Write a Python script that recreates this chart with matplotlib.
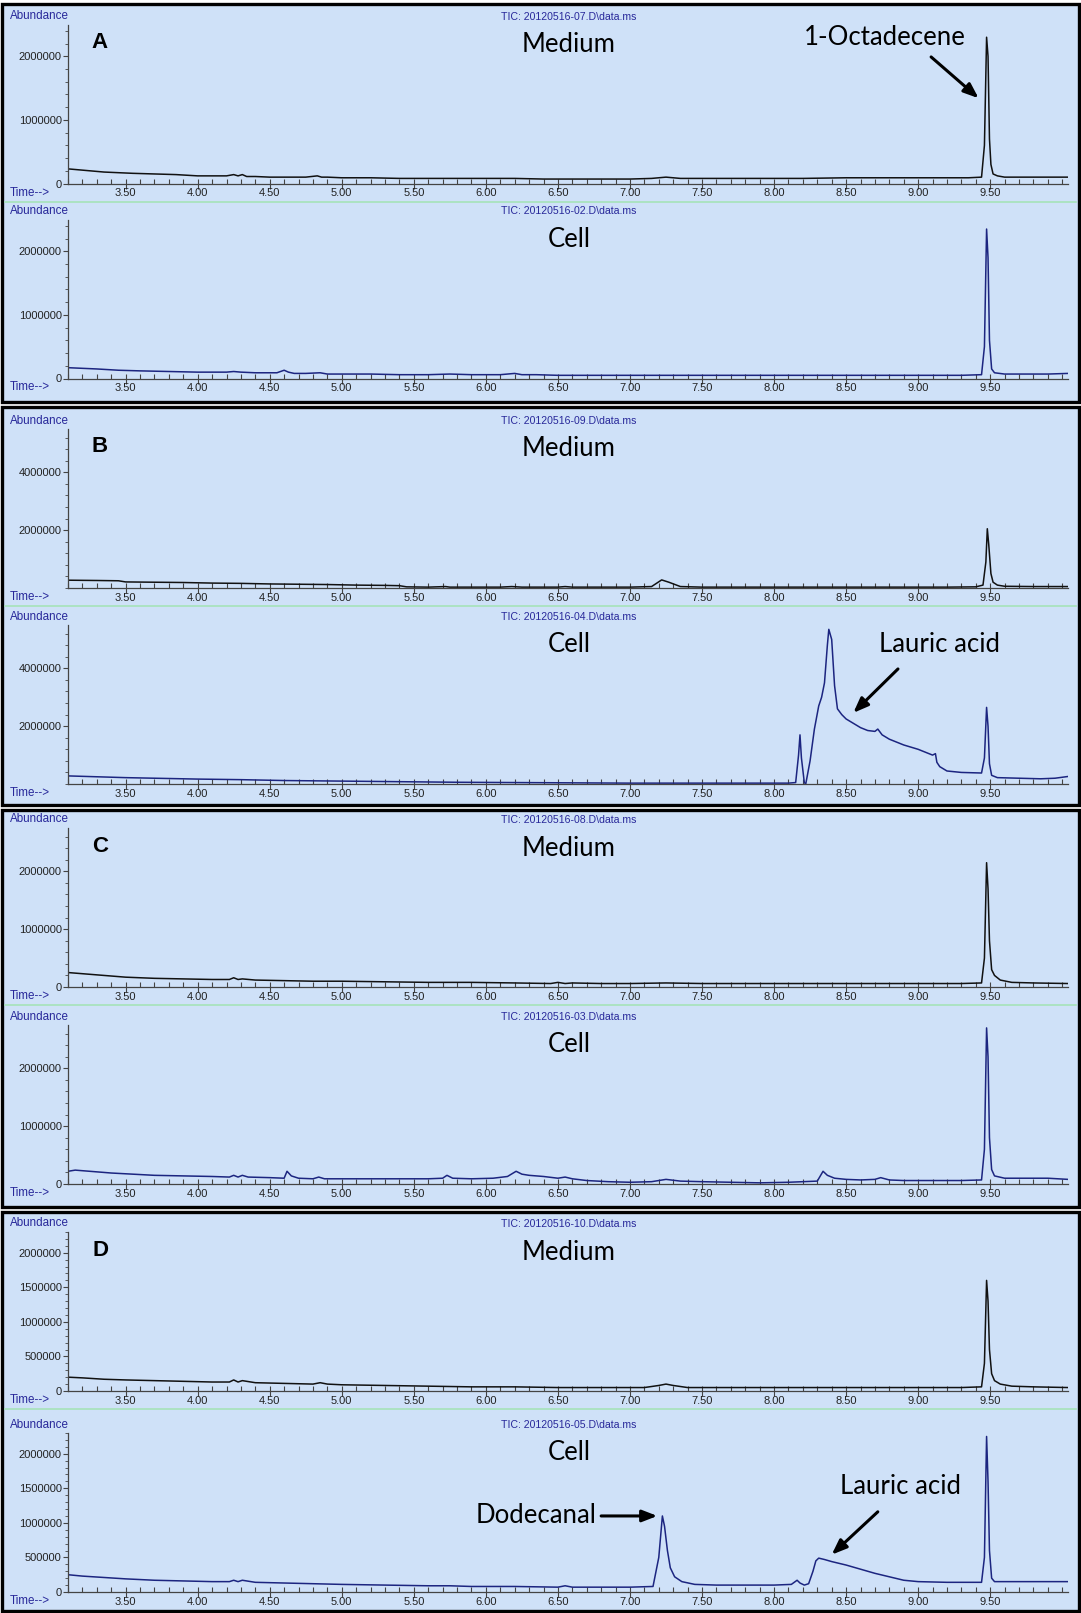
import numpy as np
import matplotlib.pyplot as plt
from matplotlib.patches import Rectangle
from matplotlib.lines import Line2D
from matplotlib.ticker import MultipleLocator, FixedLocator, FuncFormatter

# retention time (min) / abundance (millions)
a_med_t = [3.10, 3.15, 3.25, 3.35, 3.45, 3.55, 3.70, 3.85, 4.00, 4.10, 4.20, 4.25, 4.28, 4.31, 4.34, 4.40, 4.50, 4.60,
           4.75, 4.83, 4.86, 4.90, 5.00, 5.20, 5.40, 5.60, 5.80, 6.00, 6.20, 6.40, 6.60, 6.80, 7.00, 7.15, 7.25, 7.35,
           7.50, 7.80, 8.00, 8.20, 8.50, 8.80, 9.00, 9.20, 9.35, 9.44, 9.46, 9.475, 9.485, 9.495, 9.505, 9.52, 9.55,
           9.60, 9.70, 9.80, 9.90, 10.04]
a_med_y = [0.23, 0.22, 0.20, 0.18, 0.17, 0.16, 0.15, 0.14, 0.12, 0.12, 0.12, 0.14, 0.12, 0.14, 0.11, 0.11, 0.10, 0.10,
           0.10, 0.12, 0.10, 0.10, 0.09, 0.09, 0.08, 0.08, 0.08, 0.08, 0.08, 0.07, 0.07, 0.07, 0.07, 0.08, 0.10, 0.08,
           0.08, 0.08, 0.08, 0.08, 0.09, 0.09, 0.09, 0.09, 0.09, 0.10, 0.60, 2.30, 2.00, 0.70, 0.30, 0.15, 0.12,
           0.10, 0.10, 0.10, 0.10, 0.10]

a_cell_t = [3.10, 3.20, 3.30, 3.45, 3.60, 3.80, 4.00, 4.20, 4.25, 4.30, 4.40, 4.55, 4.60, 4.63, 4.67, 4.75, 4.85, 4.90,
            5.00, 5.20, 5.40, 5.60, 5.75, 5.90, 6.10, 6.20, 6.25, 6.35, 6.50, 6.70, 6.90, 7.10, 7.30, 7.50, 7.70,
            7.90, 8.10, 8.30, 8.50, 8.70, 8.90, 9.10, 9.30, 9.44, 9.46, 9.475, 9.485, 9.495, 9.51, 9.53, 9.60, 9.75,
            9.90, 10.04]
a_cell_y = [0.17, 0.16, 0.15, 0.13, 0.12, 0.11, 0.10, 0.10, 0.11, 0.10, 0.09, 0.09, 0.13, 0.10, 0.08, 0.08, 0.09, 0.07,
            0.07, 0.07, 0.06, 0.06, 0.07, 0.06, 0.06, 0.08, 0.06, 0.06, 0.05, 0.05, 0.05, 0.05, 0.05, 0.05, 0.05,
            0.05, 0.05, 0.05, 0.05, 0.05, 0.05, 0.05, 0.05, 0.06, 0.50, 2.35, 1.90, 0.60, 0.15, 0.09, 0.07, 0.07,
            0.07, 0.08]

b_med_t = [3.10, 3.30, 3.45, 3.50, 3.70, 3.90, 4.10, 4.30, 4.50, 4.70, 4.90, 5.10, 5.30, 5.40, 5.45, 5.60, 5.72, 5.75,
           5.90, 6.10, 6.18, 6.25, 6.50, 6.55, 6.60, 6.80, 7.00, 7.15, 7.22, 7.27, 7.35, 7.50, 7.80, 8.10, 8.40, 8.70,
           9.00, 9.20, 9.40, 9.45, 9.47, 9.48, 9.49, 9.505, 9.52, 9.55, 9.60, 9.80, 10.04]
b_med_y = [0.27, 0.26, 0.25, 0.21, 0.20, 0.19, 0.17, 0.16, 0.14, 0.13, 0.12, 0.10, 0.09, 0.08, 0.04, 0.03, 0.05, 0.03,
           0.03, 0.03, 0.05, 0.03, 0.03, 0.05, 0.03, 0.03, 0.03, 0.05, 0.28, 0.20, 0.05, 0.03, 0.03, 0.03, 0.03, 0.03,
           0.03, 0.03, 0.04, 0.10, 0.90, 2.05, 1.50, 0.50, 0.20, 0.10, 0.06, 0.05, 0.05]

b_cell_t = [3.10, 3.30, 3.50, 3.70, 4.00, 4.30, 4.60, 5.00, 5.40, 5.80, 6.20, 6.60, 7.00, 7.40, 7.80, 8.10, 8.15, 8.17,
            8.18, 8.19, 8.21, 8.22, 8.25, 8.28, 8.31, 8.33, 8.35, 8.37, 8.38, 8.40, 8.42, 8.44, 8.47, 8.50, 8.55, 8.60,
            8.65, 8.70, 8.72, 8.75, 8.80, 8.90, 9.00, 9.10, 9.12, 9.13, 9.15, 9.20, 9.30, 9.44, 9.46, 9.475, 9.485,
            9.495, 9.51, 9.55, 9.70, 9.85, 9.95, 10.04]
b_cell_y = [0.28, 0.25, 0.22, 0.20, 0.17, 0.15, 0.12, 0.10, 0.08, 0.06, 0.05, 0.04, 0.03, 0.03, 0.03, 0.03, 0.05, 1.00,
            1.70, 0.90, 0.05, 0.00, 0.80, 1.90, 2.70, 3.00, 3.50, 4.80, 5.35, 5.00, 3.40, 2.60, 2.40, 2.25, 2.10, 1.95,
            1.85, 1.82, 1.90, 1.70, 1.55, 1.35, 1.20, 1.00, 1.05, 0.75, 0.60, 0.45, 0.40, 0.38, 0.90, 2.65, 2.00,
            0.70, 0.30, 0.22, 0.20, 0.18, 0.20, 0.26]

c_med_t = [3.10, 3.20, 3.35, 3.50, 3.70, 3.90, 4.10, 4.22, 4.25, 4.28, 4.31, 4.40, 4.60, 4.80, 5.00, 5.30, 5.60, 5.90,
           6.20, 6.45, 6.50, 6.55, 6.60, 6.80, 7.00, 7.25, 7.50, 7.80, 8.10, 8.40, 8.70, 9.00, 9.30, 9.44, 9.46, 9.475,
           9.485, 9.495, 9.51, 9.53, 9.57, 9.65, 9.80, 10.04]
c_med_y = [0.25, 0.23, 0.20, 0.17, 0.15, 0.14, 0.13, 0.13, 0.16, 0.13, 0.14, 0.12, 0.11, 0.10, 0.10, 0.09, 0.08, 0.08,
           0.07, 0.06, 0.08, 0.06, 0.07, 0.06, 0.06, 0.07, 0.06, 0.06, 0.06, 0.06, 0.06, 0.06, 0.06, 0.07, 0.50, 2.15,
           1.70, 0.80, 0.30, 0.20, 0.12, 0.08, 0.07, 0.06]

c_cell_t = [3.10, 3.15, 3.25, 3.40, 3.55, 3.70, 3.90, 4.10, 4.22, 4.25, 4.28, 4.31, 4.35, 4.50, 4.60, 4.62, 4.65, 4.70,
            4.80, 4.84, 4.88, 5.00, 5.20, 5.40, 5.60, 5.70, 5.73, 5.77, 5.90, 6.05, 6.15, 6.21, 6.25, 6.30, 6.40, 6.50,
            6.55, 6.60, 6.70, 6.85, 7.00, 7.15, 7.25, 7.35, 7.50, 7.70, 7.90, 8.10, 8.30, 8.34, 8.37, 8.42, 8.50, 8.60,
            8.70, 8.74, 8.80, 8.90, 9.10, 9.30, 9.44, 9.46, 9.475, 9.485, 9.495, 9.51, 9.53, 9.60, 9.75, 9.90, 10.04]
c_cell_y = [0.22, 0.24, 0.22, 0.19, 0.17, 0.15, 0.14, 0.13, 0.12, 0.15, 0.12, 0.15, 0.12, 0.11, 0.10, 0.22, 0.14, 0.10,
            0.09, 0.12, 0.09, 0.09, 0.09, 0.09, 0.09, 0.10, 0.15, 0.10, 0.09, 0.10, 0.13, 0.22, 0.17, 0.15, 0.13, 0.10,
            0.12, 0.09, 0.06, 0.04, 0.03, 0.04, 0.08, 0.05, 0.04, 0.03, 0.02, 0.03, 0.05, 0.22, 0.15, 0.10, 0.08, 0.07,
            0.08, 0.11, 0.07, 0.06, 0.06, 0.06, 0.07, 0.60, 2.70, 2.20, 0.80, 0.25, 0.14, 0.10, 0.10, 0.10, 0.08]

d_med_t = [3.10, 3.20, 3.35, 3.50, 3.70, 3.90, 4.10, 4.22, 4.25, 4.28, 4.31, 4.40, 4.60, 4.80, 4.85, 4.90, 5.00, 5.30,
           5.60, 5.90, 6.20, 6.50, 6.80, 7.10, 7.20, 7.25, 7.30, 7.40, 7.60, 7.90, 8.20, 8.50, 8.80, 9.10, 9.30, 9.44,
           9.46, 9.475, 9.485, 9.495, 9.51, 9.53, 9.57, 9.65, 9.80, 10.04]
d_med_y = [0.20, 0.19, 0.17, 0.16, 0.15, 0.14, 0.13, 0.13, 0.16, 0.13, 0.15, 0.12, 0.11, 0.10, 0.12, 0.10, 0.09, 0.08,
           0.07, 0.06, 0.06, 0.05, 0.05, 0.05, 0.08, 0.10, 0.08, 0.05, 0.05, 0.05, 0.05, 0.05, 0.05, 0.05, 0.05, 0.06,
           0.40, 1.60, 1.30, 0.60, 0.25, 0.15, 0.10, 0.07, 0.06, 0.05]

d_cell_t = [3.10, 3.20, 3.35, 3.50, 3.70, 3.90, 4.10, 4.22, 4.25, 4.28, 4.31, 4.40, 4.60, 4.80, 5.00, 5.30, 5.60, 5.75,
            5.90, 6.20, 6.50, 6.55, 6.60, 6.80, 7.00, 7.16, 7.20, 7.225, 7.24, 7.26, 7.28, 7.31, 7.36, 7.45, 7.60, 7.80,
            8.00, 8.12, 8.16, 8.18, 8.21, 8.24, 8.27, 8.29, 8.31, 8.35, 8.40, 8.50, 8.60, 8.70, 8.80, 8.90, 9.00, 9.20,
            9.44, 9.46, 9.475, 9.485, 9.495, 9.51, 9.53, 9.60, 9.80, 10.04]
d_cell_y = [0.25, 0.23, 0.21, 0.19, 0.17, 0.16, 0.15, 0.15, 0.17, 0.15, 0.17, 0.14, 0.13, 0.12, 0.11, 0.10, 0.09, 0.09,
            0.08, 0.08, 0.07, 0.09, 0.07, 0.07, 0.07, 0.08, 0.50, 1.10, 0.95, 0.60, 0.35, 0.22, 0.15, 0.11, 0.10, 0.10,
            0.10, 0.11, 0.17, 0.13, 0.10, 0.12, 0.30, 0.45, 0.49, 0.47, 0.44, 0.39, 0.33, 0.27, 0.22, 0.17, 0.15, 0.14,
            0.14, 0.50, 2.25, 1.60, 0.60, 0.20, 0.15, 0.15, 0.15, 0.15]

panel_letters = ['A', 'B', 'C', 'D']
tic_files = [('20120516-07.D', '20120516-02.D'), ('20120516-09.D', '20120516-04.D'),
             ('20120516-08.D', '20120516-03.D'), ('20120516-10.D', '20120516-05.D')]
traces = [((a_med_t, a_med_y), (a_cell_t, a_cell_y)), ((b_med_t, b_med_y), (b_cell_t, b_cell_y)),
          ((c_med_t, c_med_y), (c_cell_t, c_cell_y)), ((d_med_t, d_med_y), (d_cell_t, d_cell_y))]
y_max = [2.5e6, 5.5e6, 2.75e6, 2.3e6]
y_major = [[0, 1e6, 2e6], [2e6, 4e6], [0, 1e6, 2e6], [0, 5e5, 1e6, 1.5e6, 2e6]]
y_minor = [2e5, 4e5, 2e5, 1e5]
x_major = [3.5, 4.0, 4.5, 5.0, 5.5, 6.0, 6.5, 7.0, 7.5, 8.0, 8.5, 9.0, 9.5]

# layout in pixels
W, H = 1081, 1613
panel_box = [(4, 402), (407, 805), (810, 1207), (1212, 1611)]
ax_bottom = [(183.5, 378.5), (588, 784), (987, 1184), (1391, 1592)]
ax_h = 159
x_left, x_right = 68, 1068

bg = '#cfe1f8'
blue_txt = '#28289a'
col_med = '#111111'
col_cell = '#1c2580'

fig = plt.figure(figsize=(W / 100, H / 100), dpi=100)


def fx(px):
    return px / W


def fy(py):
    return 1 - py / H


def fmt_y(v, pos):
    return '%d' % v


axes = []
for i in range(4):
    top, bot = panel_box[i]
    fig.patches.append(Rectangle((fx(2), fy(bot)), fx(1077), (bot - top) / H, transform=fig.transFigure,
                                 facecolor=bg, edgecolor='black', lw=2.4, zorder=-10))
    for k in range(2):
        b = ax_bottom[i][k]
        ax = fig.add_axes([fx(x_left), fy(b), fx(x_right - x_left), ax_h / H])
        ax.set_zorder(2)
        ax.patch.set_alpha(0)
        t, y = traces[i][k]
        ax.plot(t, np.array(y) * 1e6, color=col_med if k == 0 else col_cell, lw=1.1)
        ax.set_xlim(3.1, 10.04)
        ax.set_ylim(0, y_max[i])
        for s in ['top', 'right']:
            ax.spines[s].set_visible(False)
        for s in ['left', 'bottom']:
            ax.spines[s].set_color('#444444')
            ax.spines[s].set_linewidth(0.9)
        ax.xaxis.set_major_locator(FixedLocator(x_major))
        ax.xaxis.set_minor_locator(MultipleLocator(0.1))
        ax.xaxis.set_major_formatter(FuncFormatter(lambda v, p: '%.2f' % v))
        ax.yaxis.set_major_locator(FixedLocator(y_major[i]))
        ax.yaxis.set_minor_locator(MultipleLocator(y_minor[i]))
        ax.yaxis.set_major_formatter(FuncFormatter(fmt_y))
        ax.tick_params(axis='x', which='major', direction='inout', length=7, width=0.8, color='#444444',
                       labelsize=8, pad=0, labelcolor='#222222')
        ax.tick_params(axis='x', which='minor', direction='in', length=3.5, width=0.8, color='#444444')
        ax.tick_params(axis='y', which='major', direction='out', length=3.5, width=0.8, color='#444444',
                       labelsize=8, pad=1, labelcolor='#222222')
        ax.tick_params(axis='y', which='minor', direction='out', length=2, width=0.6, color='#444444')
        for lab in ax.get_xticklabels() + ax.get_yticklabels():
            lab.set_fontfamily('Liberation Sans')

        top_px = b - ax_h
        fig.text(fx(10), fy(top_px - 8.5), 'Abundance', color=blue_txt, fontsize=8.4, va='center',
                 family='Liberation Sans')
        fig.text(fx(10), fy(b + 9), 'Time-->', color=blue_txt, fontsize=8.4, va='center', family='Liberation Sans')
        fig.text(fx(569), fy(top_px - 8), 'TIC: %s\\data.ms' % tic_files[i][k], color=blue_txt, fontsize=7.6,
                 ha='center', va='center', family='Liberation Sans')
        fig.text(fx(569), fy(top_px + 20), 'Medium' if k == 0 else 'Cell', fontsize=18.5, ha='center',
                 va='center', family='Lato')
        if k == 0:
            fig.text(fx(100), fy(top_px + 18), panel_letters[i], fontsize=16, fontweight='bold', ha='center',
                     va='center', family='Liberation Sans')
            fig.add_artist(Line2D([fx(5), fx(1076)], [fy(b + 18)] * 2, color='#a6e3b9', lw=1.2))
        axes.append(ax)

arrow = dict(arrowstyle='-|>,head_length=0.9,head_width=0.35', lw=2.2, color='black', shrinkA=0, shrinkB=0)

# A medium: internal standard
ax = axes[0]
ax.text(8.77, 2.29e6, '1-Octadecene', fontsize=18.5, ha='center', va='center', family='Lato', clip_on=False)
ax.annotate('', xy=(9.42, 1.34e6), xytext=(9.09, 1.99e6), arrowprops=arrow)

# B cell: lauric acid
ax = axes[3]
ax.text(9.15, 4.84e6, 'Lauric acid', fontsize=18.5, ha='center', va='center', family='Lato')
ax.annotate('', xy=(8.55, 2.46e6), xytext=(8.86, 3.98e6), arrowprops=arrow)

# D cell: dodecanal and lauric acid
ax = axes[7]
ax.text(6.35, 1.10e6, 'Dodecanal', fontsize=18.5, ha='center', va='center', family='Lato')
ax.annotate('', xy=(7.19, 1.10e6), xytext=(6.80, 1.10e6), arrowprops=arrow)
ax.text(8.88, 1.53e6, 'Lauric acid', fontsize=18.5, ha='center', va='center', family='Lato')
ax.annotate('', xy=(8.40, 0.54e6), xytext=(8.72, 1.16e6), arrowprops=arrow)

fig.savefig('out.png', dpi=100, facecolor='white')
